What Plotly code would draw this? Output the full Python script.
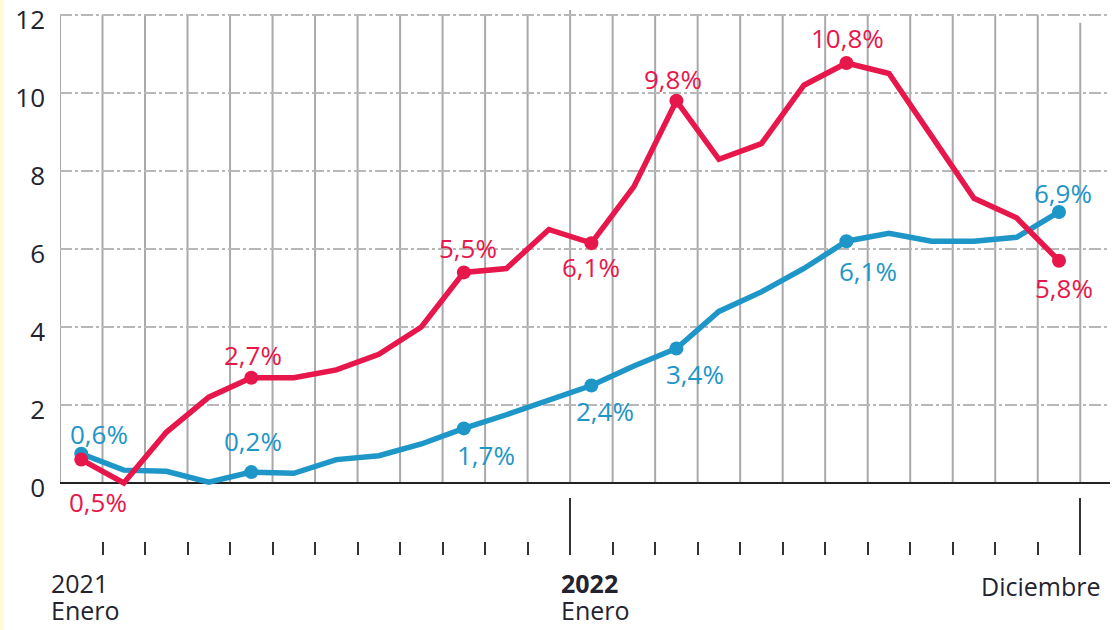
import plotly.graph_objects as go

# ---------------- data ----------------
months = list(range(24))  # Jan 2021 .. Dec 2022
red_values = [0.6, 0.0, 1.3, 2.2, 2.7, 2.7, 2.9, 3.3, 4.0, 5.4, 5.5, 6.5,
              6.15, 7.6, 9.8, 8.3, 8.7, 10.2, 10.77, 10.5, 8.9, 7.3, 6.8, 5.7]
blue_values = [0.75, 0.33, 0.3, 0.02, 0.28, 0.25, 0.6, 0.7, 1.0, 1.4, 1.75, 2.13,
               2.5, 3.0, 3.45, 4.4, 4.9, 5.5, 6.2, 6.4, 6.2, 6.2, 6.3, 6.95]

red_labels = {0: "0,5%", 4: "2,7%", 9: "5,5%", 12: "6,1%", 14: "9,8%", 18: "10,8%", 23: "5,8%"}
blue_labels = {0: "0,6%", 4: "0,2%", 9: "1,7%", 12: "2,4%", 14: "3,4%", 18: "6,1%", 23: "6,9%"}

y_ticks = [0, 2, 4, 6, 8, 10, 12]
period_labels = [(-0.5, "2021", "Enero", "left"), (11.5, "<b>2022</b>", "Enero", "left"),
                 (23.5, "", "Diciembre", "right")]

# ---------------- style ----------------
RED = "#E8174B"
BLUE = "#1E96C8"
TEXT = "#23232f"
FONT = "Open Sans"
FS = 26

# label offsets in pixels (xshift, yshift)
red_off = {0: (17, -42), 4: (2, 23), 9: (4, 24), 12: (0, -24), 14: (-3, 22), 18: (1, 25), 23: (5, -27)}
blue_off = {0: (18, 20), 4: (2, 31), 9: (22, -27), 12: (14, -25), 14: (19, -26), 18: (22, -30), 23: (4, 19)}

W, H = 1120, 630
ML, MR, MT, MB = 60, 10, 5, 75
XR = [-0.5, 24.2]
YMIN, YMAX = -0.35, 12.25
ZERO_PX, PX_PER_UNIT = 483, 39.0
plot_h = H - MT - MB
bottom_px = H - MB


def ypx(v):
    return ZERO_PX - v * PX_PER_UNIT


ydom = [(bottom_px - ypx(YMIN)) / plot_h, (bottom_px - ypx(YMAX)) / plot_h]

fig = go.Figure()


def msizes(labels):
    return [14 if m in labels else 0 for m in months]


fig.add_trace(go.Scatter(x=months, y=blue_values, mode="lines+markers",
                         line=dict(color=BLUE, width=5.5),
                         marker=dict(size=msizes(blue_labels), color=BLUE, opacity=1,
                                     line=dict(width=0)),
                         hoverinfo="skip", showlegend=False, cliponaxis=False))
fig.add_trace(go.Scatter(x=months, y=red_values, mode="lines+markers",
                         line=dict(color=RED, width=5.5),
                         marker=dict(size=msizes(red_labels), color=RED, opacity=1,
                                     line=dict(width=0)),
                         hoverinfo="skip", showlegend=False, cliponaxis=False))
# dummy trace to carry the tick axis
fig.add_trace(go.Scatter(x=[None], y=[None], xaxis="x2", showlegend=False, hoverinfo="skip"))

annotations = []
for labels, offs, vals, col in [(red_labels, red_off, red_values, RED),
                                (blue_labels, blue_off, blue_values, BLUE)]:
    for m, txt in labels.items():
        dx, dy = offs[m]
        annotations.append(dict(x=m, y=vals[m], xref="x", yref="y", text=txt,
                                showarrow=False, xshift=dx, yshift=dy,
                                font=dict(family=FONT, size=FS, color=col)))

for xv, top, bottom, align in period_labels:
    xs = -11 if align == "left" else 22
    if top:
        annotations.append(dict(x=xv, y=0, xref="x", yref="paper", text=top, showarrow=False,
                                xanchor=align, yanchor="middle", xshift=xs, yshift=-28,
                                font=dict(family=FONT, size=FS - 1, color=TEXT)))
    annotations.append(dict(x=xv, y=0, xref="x", yref="paper", text=bottom, showarrow=False,
                            xanchor=align, yanchor="middle", xshift=xs,
                            yshift=-55 if top else -31,
                            font=dict(family=FONT, size=FS - 1, color=TEXT)))

shapes = []
# vertical month grid lines
for i in range(25):
    b = -0.5 + i
    y1 = 12.13 if i == 12 else (11.8 if i == 24 else 12)
    shapes.append(dict(type="line", xref="x", yref="y", x0=b, x1=b, y0=0, y1=y1,
                       line=dict(color="#a9a9a9", width=2), layer="below"))
# pale strip at left edge
shapes.append(dict(type="rect", xref="paper", yref="paper", x0=-ML / (W - ML - MR),
                   x1=-(ML - 4) / (W - ML - MR), y0=-MB / plot_h, y1=1 + MT / plot_h,
                   fillcolor="#FFFBD8", line=dict(width=0), layer="below"))

fig.update_layout(
    width=W, height=H,
    margin=dict(l=ML, r=MR, t=MT, b=MB, autoexpand=False),
    plot_bgcolor="white", paper_bgcolor="white",
    font=dict(family=FONT, size=FS, color=TEXT),
    xaxis=dict(range=XR, showgrid=False, zeroline=False, showline=False, automargin=False,
               showticklabels=False, ticks="", fixedrange=True),
    xaxis2=dict(range=XR, overlaying="x", anchor="free", position=0, side="bottom",
                automargin=False,
                showgrid=False, zeroline=False, showline=False, showticklabels=False,
                tickmode="array", tickvals=[-0.5, 11.5, 23.5], ticks="inside",
                ticklen=57, tickwidth=2, tickcolor="#333333",
                minor=dict(tickmode="array", tickvals=[-0.5 + i for i in range(25)],
                           ticks="inside", ticklen=13, tickwidth=2, tickcolor="#333333")),
    yaxis=dict(range=[YMIN, YMAX], domain=ydom, tickmode="array", tickvals=y_ticks,
               ticktext=[str(v) for v in y_ticks], showgrid=True, gridcolor="#b8b8b8",
               gridwidth=1.5, griddash="12px,3px,3px,3px", zeroline=True, automargin=False,
               zerolinecolor="#222222", zerolinewidth=2, showline=False, ticks="",
               ticklabeloverflow="allow", ticklabelshift=5,
               ticklabelstandoff=14, tickfont=dict(family=FONT, size=FS, color=TEXT)),
    annotations=annotations,
    shapes=shapes,
)

fig.write_html("out.html", config={"displayModeBar": False},
               post_script="document.body.style.margin='0';document.body.style.padding='0';")
